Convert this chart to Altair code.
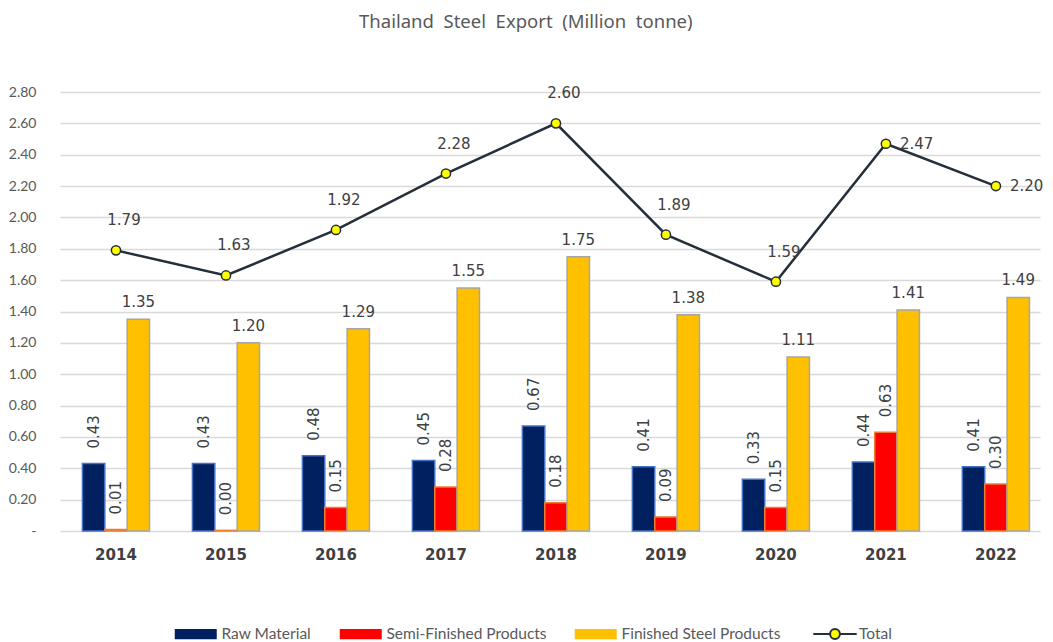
import altair as alt
import pandas as pd

years = ["2014", "2015", "2016", "2017", "2018", "2019", "2020", "2021", "2022"]
raw_material = [0.43, 0.43, 0.48, 0.45, 0.67, 0.41, 0.33, 0.44, 0.41]
semi_finished = [0.01, 0.004, 0.15, 0.28, 0.18, 0.09, 0.15, 0.63, 0.30]
finished_steel = [1.35, 1.20, 1.29, 1.55, 1.75, 1.38, 1.11, 1.41, 1.49]
total = [1.79, 1.63, 1.92, 2.28, 2.60, 1.89, 1.59, 2.47, 2.20]
right_label_years = ["2021", "2022"]

series_names = ["Raw Material", "Semi-Finished Products", "Finished Steel Products"]
fills = ["#002060", "#FF0000", "#FFC000"]
strokes = ["#4472C4", "#ED7D31", "#A5A5A5"]
y_ticks = [0, 0.2, 0.4, 0.6, 0.8, 1.0, 1.2, 1.4, 1.6, 1.8, 2.0, 2.2, 2.4, 2.6, 2.8]

rows = []
for name, vals in zip(series_names, [raw_material, semi_finished, finished_steel]):
    for yr, v in zip(years, vals):
        rows.append({"year": yr, "series": name, "value": v})
bars_df = pd.DataFrame(rows)
total_df = pd.DataFrame({"year": years, "value": total, "name": ["Total"] * len(years)})

LINE = "#242F3B"
TXT = "#404040"
LEG_FONT = "Lato"

x_axis = alt.Axis(title=None, labelAngle=0, labelFont="DejaVu Sans", labelFontWeight="bold",
                  labelFontSize=15, labelColor=TXT, labelPadding=16, ticks=False,
                  domain=False, grid=False)
x_scale = alt.Scale(paddingInner=0.39, paddingOuter=0.15, align=0.68)


def xe(center=False):
    if center:
        return alt.X("year:N", sort=years, scale=x_scale, axis=x_axis, bandPosition=0.5)
    return alt.X("year:N", sort=years, scale=x_scale, axis=x_axis)


xoff = alt.XOffset("series:N", sort=series_names,
                   scale=alt.Scale(domain=series_names, paddingInner=0, paddingOuter=0))
y_enc = alt.Y(
    "value:Q", scale=alt.Scale(domain=[0, 2.8], nice=False),
    axis=alt.Axis(title=None, values=y_ticks, labelOverlap=False,
                  labelExpr="datum.value == 0 ? '-' : format(datum.value, '.2f')",
                  domain=False, ticks=False, gridColor="#D9D9D9", gridWidth=1.5,
                  labelFont="Lato", labelFontSize=14, labelColor="#595959", labelPadding=24),
)

bar_legend = alt.Legend(
    title=None, orient="none", legendX=128, legendY=534, direction="horizontal",
    symbolType="M-3,-0.72H3V0.72H-3Z", symbolSize=196, symbolStrokeWidth=0,
    labelFont=LEG_FONT, labelFontSize=15.5, labelColor="#595959", labelOffset=18,
    labelLimit=300, columnPadding=27,
)

bars = alt.Chart(bars_df).mark_bar(strokeWidth=1.5).encode(
    x=xe(), xOffset=xoff, y=y_enc,
    color=alt.Color("series:N", scale=alt.Scale(domain=series_names, range=fills), legend=bar_legend),
    stroke=alt.Stroke("series:N", scale=alt.Scale(domain=series_names, range=strokes), legend=None),
)

rot_labels = alt.Chart(bars_df).transform_filter(
    alt.datum.series != "Finished Steel Products"
).mark_text(angle=270, align="left", baseline="middle", dx=15, font="DejaVu Sans",
            fontSize=15, color=TXT).encode(
    x=xe(), xOffset=xoff, y=y_enc,
    text=alt.Text("value:Q", format=".2f"),
)

fin_labels = alt.Chart(bars_df).transform_filter(
    alt.datum.series == "Finished Steel Products"
).mark_text(baseline="bottom", dy=-9, font="DejaVu Sans", fontSize=15, color=TXT).encode(
    x=xe(), xOffset=xoff, y=y_enc,
    text=alt.Text("value:Q", format=".2f"),
)

line = alt.Chart(total_df).mark_line(color=LINE, strokeWidth=2.5).encode(
    x=xe(True), y=y_enc,
)

points = alt.Chart(total_df).mark_point(filled=True, size=85, stroke=LINE, strokeWidth=1.5, opacity=1).encode(
    x=xe(True), y=y_enc,
    color=alt.Color("name:N", scale=alt.Scale(domain=["Total"], range=["#FFFF00"]),
                    legend=alt.Legend(title=None, orient="none", legendX=767, legendY=534,
                                      symbolType="M-3.1,0H-0.7M0.7,0H3.1M0.7,0A0.7,0.7 0 1 1 -0.7,0A0.7,0.7 0 1 1 0.7,0Z",
                                      symbolSize=196, symbolStrokeColor=LINE, symbolStrokeWidth=2,
                                      symbolFillColor="#FFFF00",
                                      labelFont=LEG_FONT, labelFontSize=15.5, labelColor="#595959",
                                      labelOffset=16)),
)

tot_above = alt.Chart(total_df).transform_filter(
    ~alt.FieldOneOfPredicate(field="year", oneOf=right_label_years)
).mark_text(baseline="middle", dx=8, dy=-30, font="DejaVu Sans", fontSize=15, color=TXT).encode(
    x=xe(True), y=y_enc,
    text=alt.Text("value:Q", format=".2f"),
)
tot_right = alt.Chart(total_df).transform_filter(
    alt.FieldOneOfPredicate(field="year", oneOf=right_label_years)
).mark_text(baseline="middle", align="left", dx=14, font="DejaVu Sans", fontSize=15, color=TXT).encode(
    x=xe(True), y=y_enc,
    text=alt.Text("value:Q", format=".2f"),
)

chart = alt.layer(bars, line, points, rot_labels, fin_labels, tot_above, tot_right).resolve_scale(
    color="independent"
).properties(
    width=980, height=439,
    title=alt.TitleParams("Thailand\u00a0 Steel\u00a0 Export\u00a0 (Million\u00a0 tonne)", font="Noto Sans",
                          fontSize=18.5, fontWeight="normal", color="#595959", anchor="middle",
                          frame="bounds", offset=54),
    padding={"left": 0, "top": 4, "right": 0, "bottom": 0},
).configure_view(stroke=None)

chart.save("out.html", embed_options={"renderer": "svg", "actions": False})
